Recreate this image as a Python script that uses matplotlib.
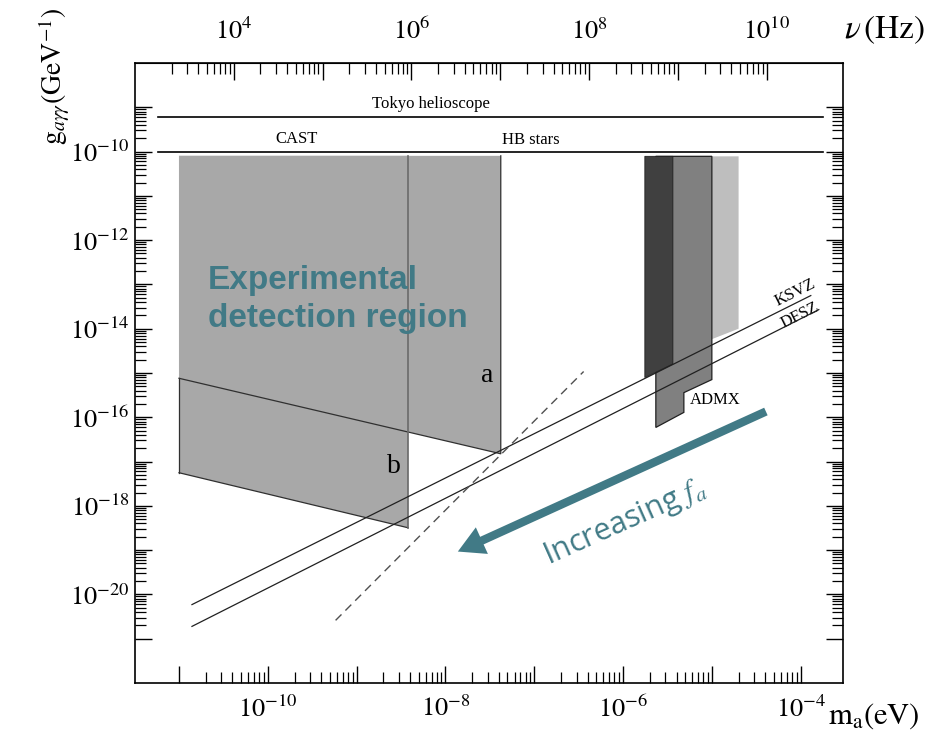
import numpy as np
import matplotlib
matplotlib.use('Agg')
import matplotlib.pyplot as plt
from matplotlib.ticker import FixedLocator, FuncFormatter, NullFormatter

plt.rcParams['font.family'] = ['Liberation Serif', 'DejaVu Serif']
plt.rcParams['mathtext.fontset'] = 'stix'

# m_a (eV) -> nu (Hz)
EV_TO_HZ = 2.418e14

# limits
m_lim = [3.2e-12, 3.0e-4]
g_lim = [1e-22, 1e-8]

# horizontal bounds
tokyo_m = [5.8e-12, 1.8e-4]
tokyo_g = [6.0e-10, 6.0e-10]
hb_m = [5.8e-12, 1.8e-4]
hb_g = [1.0e-10, 1.0e-10]

# region a / region b
a_m = [1.0e-11, 4.2e-8, 4.2e-8, 1.0e-11]
a_g = [8.0e-11, 8.0e-11, 1.5e-17, 7.6e-16]
b_m = [1.0e-11, 3.8e-9, 3.8e-9, 1.0e-11]
b_g = [8.0e-11, 8.0e-11, 3.2e-19, 5.6e-18]

# model lines
ksvz_m = [1.4e-11, 1.3e-4]
ksvz_g = [5.9e-21, 5.6e-14]
dfsz_m = [1.4e-11, 1.6e-4]
dfsz_g = [1.9e-21, 2.7e-14]
dash_m = [5.8e-10, 3.6e-7]
dash_g = [2.6e-21, 1.08e-15]

# ADMX blocks
admx_dark_m = [1.76e-6, 3.64e-6, 3.64e-6, 1.76e-6]
admx_dark_g = [7.8e-11, 7.8e-11, 1.6e-15, 7.9e-16]
admx_mid_m = [2.34e-6, 1.0e-5, 1.0e-5, 4.84e-6, 4.84e-6, 2.34e-6]
admx_mid_g = [7.8e-11, 7.8e-11, 7.1e-16, 3.6e-16, 1.29e-16, 5.9e-17]
admx_light_m = [1.0e-5, 2.0e-5, 2.0e-5, 1.0e-5]
admx_light_g = [7.8e-11, 7.8e-11, 1.0e-14, 5.8e-15]

# arrow (tail, head)
arrow_m = [4.06e-5, 1.38e-8]
arrow_g = [1.35e-16, 9.3e-20]

# ticks
m_major_exp = np.arange(-11, -3)
g_major_exp = np.arange(-21, -8)
nu_major_exp = np.arange(4, 11)

teal = '#417a86'


def decade_minors(exps):
    out = []
    for e in exps[:-1]:
        out += [k * 10.0**e for k in range(2, 10)]
    return out


def even_label(x, pos):
    e = int(round(np.log10(x)))
    if e % 2 == 0:
        return r'$10^{%d}$' % e
    return ''


fig = plt.figure(figsize=(9.43, 7.40), dpi=100)
ax = fig.add_axes([0.1432, 0.0770, 0.7508, 0.8379])
ax.set_xscale('log')
ax.set_yscale('log')
ax.set_xlim(m_lim)
ax.set_ylim(g_lim)

# shaded regions
ax.fill(a_m, a_g, color='#a8a8a8', lw=0, zorder=1)
ax.fill(b_m, b_g, color='#a8a8a8', lw=0, zorder=1)
ax.plot(a_m[1:], a_g[1:], color='#303030', lw=0.9, zorder=3)
ax.plot(b_m[2:], b_g[2:], color='#303030', lw=0.9, zorder=3)
ax.plot([b_m[1], b_m[2]], [b_g[1], b_g[2]], color='#6a6a6a', lw=1.2, zorder=3)
ax.plot([a_m[3], b_m[3]], [a_g[3], b_g[3]], color='#303030', lw=0.9, zorder=3)

ax.fill(admx_light_m, admx_light_g, color='#bebebe', lw=0, zorder=1)
ax.fill(admx_mid_m, admx_mid_g, facecolor='#808080', edgecolor='#202020', lw=0.9, zorder=2)
ax.fill(admx_dark_m, admx_dark_g, facecolor='#404040', edgecolor='#202020', lw=0.6, zorder=2)

# bounds and model lines
ax.plot(tokyo_m, tokyo_g, color='black', lw=1.2, zorder=3)
ax.plot(hb_m, hb_g, color='black', lw=1.2, zorder=3)
ax.plot(ksvz_m, ksvz_g, color='#202020', lw=0.9, zorder=4)
ax.plot(dfsz_m, dfsz_g, color='#202020', lw=0.9, zorder=4)
ax.plot(dash_m, dash_g, color='#505050', lw=1.0, ls=(0, (6, 4)), zorder=4)

# labels inside plot
ax.text(6.9e-9, 1.2e-9, 'Tokyo helioscope', fontsize=12, ha='center', va='center')
ax.text(2.1e-10, 1.9e-10, 'CAST', fontsize=12, ha='center', va='center')
ax.text(9.1e-8, 1.8e-10, 'HB stars', fontsize=12, ha='center', va='center')
ax.text(2.95e-8, 8.7e-16, 'a', fontsize=20, ha='center', va='center')
ax.text(2.6e-9, 7.8e-18, 'b', fontsize=20, ha='center', va='center')
ax.text(1.08e-5, 2.4e-16, 'ADMX', fontsize=12, ha='center', va='center')
ax.text(8.6e-5, 6.6e-14, 'KSVZ', fontsize=12, ha='center', va='center',
        rotation=26.5, rotation_mode='anchor')
ax.text(9.8e-5, 2.0e-14, 'DFSZ', fontsize=12, ha='center', va='center',
        rotation=26.5, rotation_mode='anchor')

ax.text(2.1e-11, 4.6e-14, 'Experimental\ndetection region', fontsize=24,
        fontweight='bold', color=teal, ha='left', va='center',
        family=['Liberation Sans'], linespacing=1.3, zorder=5)

ax.annotate('', xy=(arrow_m[1], arrow_g[1]), xytext=(arrow_m[0], arrow_g[0]),
            arrowprops=dict(facecolor=teal, edgecolor='none', width=6,
                            headwidth=21, headlength=19), zorder=5)
ax.text(1.05e-6, 4.3e-19, r'Increasing $f_a$', fontsize=22, color=teal,
        ha='center', va='center', rotation=24, rotation_mode='anchor',
        family=['Open Sans'], zorder=5)

# bottom / side ticks
ax.xaxis.set_major_locator(FixedLocator([10.0**e for e in m_major_exp]))
ax.xaxis.set_minor_locator(FixedLocator(decade_minors(m_major_exp)))
ax.xaxis.set_major_formatter(FuncFormatter(even_label))
ax.xaxis.set_minor_formatter(NullFormatter())
ax.yaxis.set_major_locator(FixedLocator([10.0**e for e in g_major_exp]))
ax.yaxis.set_minor_locator(FixedLocator(decade_minors(g_major_exp)))
ax.yaxis.set_major_formatter(FuncFormatter(even_label))
ax.yaxis.set_minor_formatter(NullFormatter())

ax.tick_params(axis='x', which='both', direction='in', top=False, bottom=True,
               labelsize=19, pad=9)
ax.tick_params(axis='y', which='both', direction='in', left=True, right=True,
               labelsize=19, pad=4)
ax.tick_params(which='major', length=12, width=1.0)
ax.tick_params(which='minor', length=8, width=0.9)

# top frequency axis
secax = ax.secondary_xaxis('top', functions=(lambda m: m * EV_TO_HZ,
                                              lambda nu: nu / EV_TO_HZ))
secax.xaxis.set_major_locator(FixedLocator([10.0**e for e in nu_major_exp]))
nu_minor = [k * 1e3 for k in range(2, 10)] + decade_minors(nu_major_exp)
secax.xaxis.set_minor_locator(FixedLocator(nu_minor))
secax.xaxis.set_major_formatter(FuncFormatter(even_label))
secax.xaxis.set_minor_formatter(NullFormatter())
secax.tick_params(which='both', direction='in', labelsize=19, pad=14)
secax.tick_params(which='major', length=12, width=1.0)
secax.tick_params(which='minor', length=8, width=0.9)

for s in ax.spines.values():
    s.set_linewidth(1.2)

# axis titles
fig.text(55 / 943, 1 - 76 / 740, r'$\mathrm{g}_{a\gamma\gamma}(\mathrm{GeV}^{-1})$',
         rotation=90, fontsize=20, ha='center', va='center')
fig.text(874 / 943, 1 - 716 / 740, r'$\mathrm{m}_\mathrm{a}(\mathrm{eV})$',
         fontsize=22, ha='center', va='center')
fig.text(885 / 943, 1 - 30 / 740, r'$\nu\,(\mathrm{Hz})$',
         fontsize=24, ha='center', va='center')

fig.savefig('out.png', dpi=100)
